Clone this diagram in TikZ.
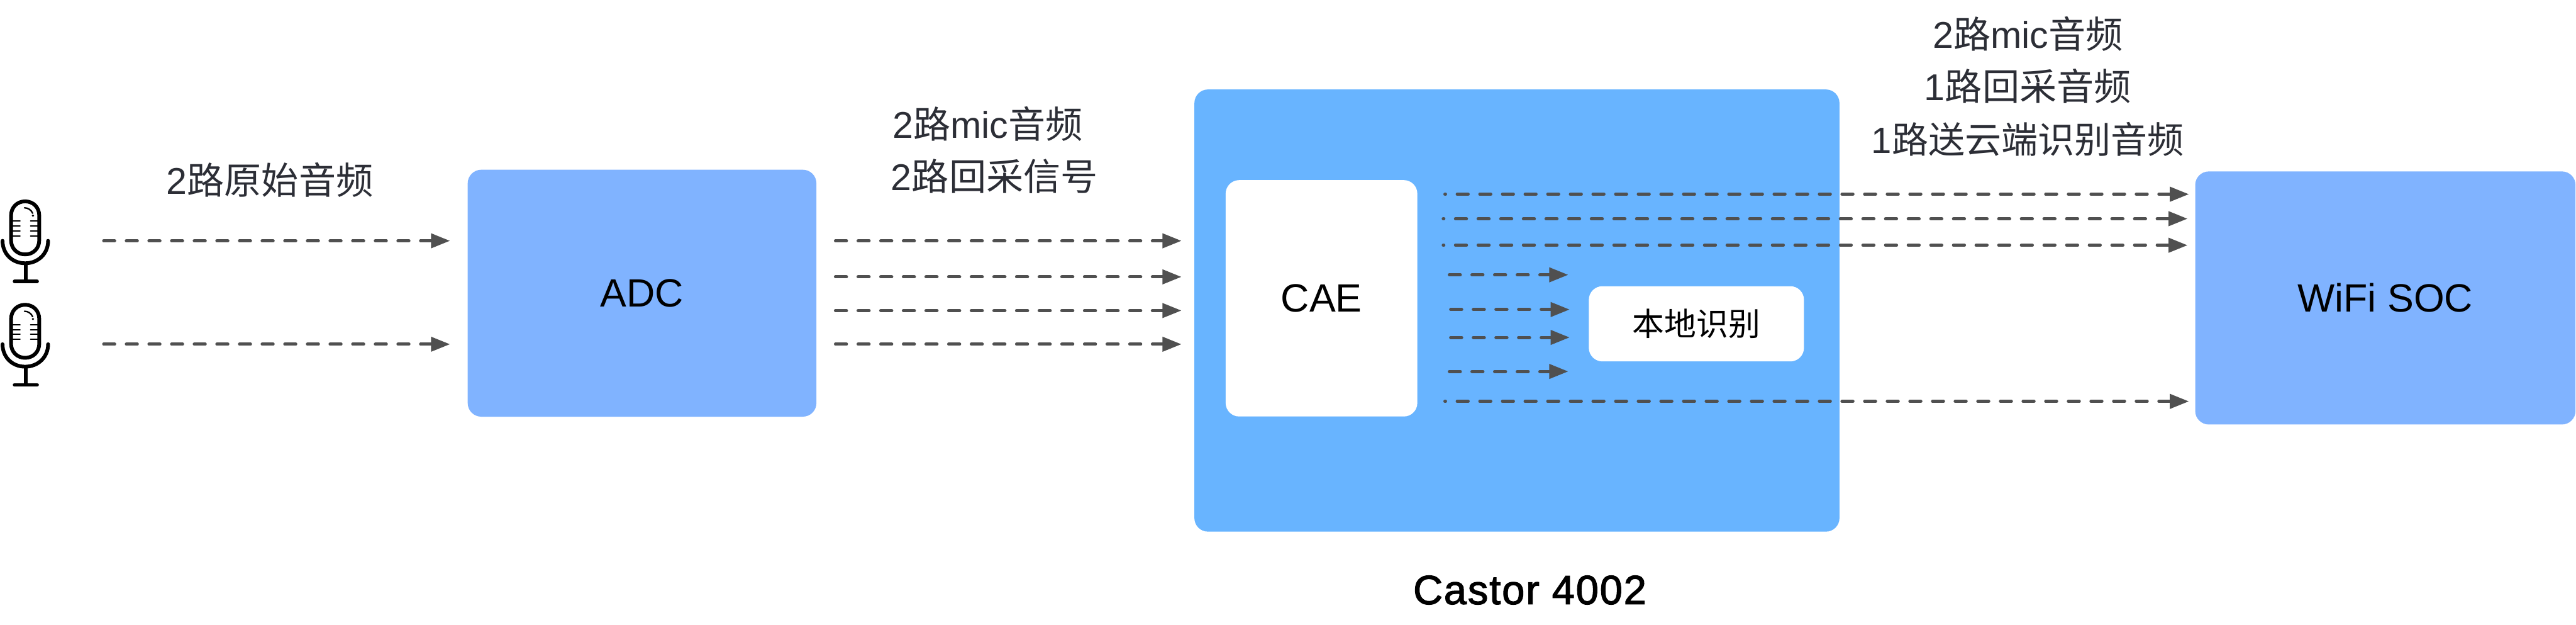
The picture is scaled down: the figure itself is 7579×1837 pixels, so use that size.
\documentclass[tikz,border=0pt]{standalone}
\usepackage{fontspec}
\setmainfont{Liberation Sans}
\newfontfamily\cjk{Noto Sans CJK SC}
\newfontfamily\medfont[FakeBold=2,LetterSpace=3]{Liberation Sans}
\usetikzlibrary{arrows.meta}
\definecolor{boxblue}{HTML}{80B3FF}
\definecolor{chipblue}{HTML}{68B4FF}
\definecolor{sigline}{HTML}{505050}
\definecolor{labelink}{HTML}{2C2E36}
\tikzset{
  block/.style={rounded corners=4pt,inner sep=0pt,text=black,font=\fontsize{11.6}{14}\selectfont},
  bluebox/.style={block,fill=boxblue},
  chipbox/.style={block,fill=chipblue},
  whitebox/.style={block,fill=white},
  siglabel/.style={anchor=base,inner sep=0pt,text=labelink,font=\fontsize{10.95}{12}\selectfont},
  siglabelwide/.style={siglabel,font=\fontsize{10.75}{12}\selectfont},
  signal/.style={draw=sigline,line width=0.9pt,line cap=round,dash pattern=on 3.25pt off 3.41pt,
    -{Triangle[length=5.6pt,width=4.2pt,fill=sigline,sep=0pt]}},
  signaldot/.style={signal,dash phase=3.05pt},
  micline/.style={draw=black,line width=1.1pt,line cap=round,fill=none},
  micfine/.style={draw=black,line width=0.38pt,line cap=round},
  pics/micicon/.style={code={
    \path[micline] (32.5,634) .. controls (32.5,610) and (50,592) .. (74,592)
      .. controls (98,592) and (115.5,610) .. (115.5,634) -- (115.5,706)
      .. controls (115.5,730) and (98,748) .. (74,748)
      .. controls (50,748) and (32.5,730) .. (32.5,706) -- cycle;
    \path[micline] (7.5,708) .. controls (7.5,746) and (36,774) .. (74,774)
      .. controls (112,774) and (141.5,746) .. (141.5,708);
    \path[micline,line cap=butt,line width=1pt] (76,776) -- (76,826);
    \path[micline] (43,827.5) -- (109,827.5);
    \foreach \gy in {650,665,679,694}{
      \path[micfine] (33,\gy) -- (59,\gy);
      \path[micfine] (90,\gy) -- (115,\gy);
    }
    \path[micfine,line width=0.42pt] (72,611) .. controls (82,611) and (92,617) .. (96,627);
    \fill[black] (97,634) circle (0.35pt);
  }}
}
\begin{document}
\begin{tikzpicture}[x=0.1pt,y=-0.1pt]
\path[use as bounding box] (0,0) rectangle (7579,1837);

% microphones
\node[inner sep=0pt,minimum width=14.7pt,minimum height=24.6pt] (mic1) at (74,710) {};
\node[inner sep=0pt,minimum width=14.7pt,minimum height=24.6pt] (mic2) at (74,1014) {};
\pic at (0,0) {micicon};
\pic at (0,304) {micicon};

% blocks
\node[bluebox,minimum width=102.6pt,minimum height=72.6pt] (adc) at (1889,862) {ADC};
\node[chipbox,minimum width=189.8pt,minimum height=130pt] (castor) at (4463,913) {};
\node[whitebox,minimum width=56.4pt,minimum height=69.5pt] (cae) at (3888,877) {CAE};
\node[whitebox,minimum width=63.3pt,minimum height=22.1pt,font=\fontsize{9.4}{11}\selectfont\cjk] (local) at (4991,952) {本地识别};
\node[bluebox,minimum width=111.9pt,minimum height=74.4pt] (wifi) at (7018,876) {WiFi SOC};

% labels
\node[siglabel] (l1) at (794,570) {2{\cjk 路原始音频}};
\node[siglabel] (l2) at (2906,406) {2{\cjk 路}mic{\cjk 音频}};
\node[siglabel] (l3) at (2926,560) {2{\cjk 路回采信号}};
\node[siglabel] (l4) at (5966,141) {2{\cjk 路}mic{\cjk 音频}};
\node[siglabel] (l5) at (5966,296) {1{\cjk 路回采音频}};
\node[siglabelwide] (l6) at (5966,450) {1{\cjk 路送云端识别音频}};
\node[anchor=base,inner sep=0pt,text=black,font=\fontsize{12}{14}\selectfont\medfont] (castorname) at (4501,1776) {Castor 4002};

% connector ends
\coordinate (m1s) at (305,708);   \coordinate (m1e) at (1324,708);
\coordinate (m2s) at (305,1012);  \coordinate (m2e) at (1324,1012);
\coordinate (a1s) at (2458,708);  \coordinate (a1e) at (3476,708);
\coordinate (a2s) at (2458,814);  \coordinate (a2e) at (3476,814);
\coordinate (a3s) at (2458,913);  \coordinate (a3e) at (3476,913);
\coordinate (a4s) at (2458,1012); \coordinate (a4e) at (3476,1012);
\coordinate (c1s) at (4251,571);  \coordinate (c1e) at (6440,571);
\coordinate (c2s) at (4246,643);  \coordinate (c2e) at (6436,643);
\coordinate (c3s) at (4246,721);  \coordinate (c3e) at (6436,721);
\coordinate (c4s) at (4251,1180); \coordinate (c4e) at (6440,1180);
\coordinate (d1s) at (4264,808);  \coordinate (d1e) at (4614,808);
\coordinate (d2s) at (4268,910);  \coordinate (d2e) at (4618,910);
\coordinate (d3s) at (4268,992);  \coordinate (d3e) at (4618,992);
\coordinate (d4s) at (4264,1092); \coordinate (d4e) at (4614,1092);

% connectors
\draw[signal] (m1s) -- (m1e);
\draw[signal] (m2s) -- (m2e);
\draw[signal] (a1s) -- (a1e);
\draw[signal] (a2s) -- (a2e);
\draw[signal] (a3s) -- (a3e);
\draw[signal] (a4s) -- (a4e);
\draw[signaldot] (c1s) -- (c1e);
\draw[signaldot] (c2s) -- (c2e);
\draw[signaldot] (c3s) -- (c3e);
\draw[signaldot] (c4s) -- (c4e);
\draw[signal] (d1s) -- (d1e);
\draw[signal] (d2s) -- (d2e);
\draw[signal] (d3s) -- (d3e);
\draw[signal] (d4s) -- (d4e);
\end{tikzpicture}
\end{document}
